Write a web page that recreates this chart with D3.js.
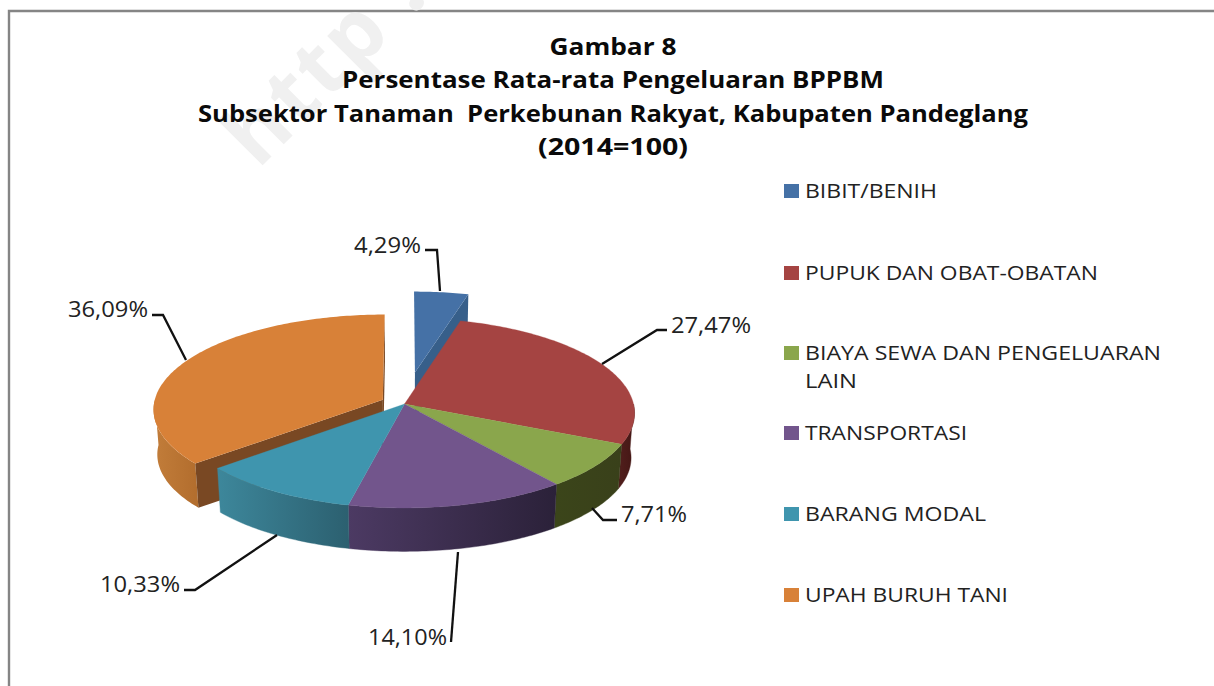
<!DOCTYPE html>
<html><head><meta charset="utf-8">
<script src="https://cdn.jsdelivr.net/npm/d3@7"></script>
<style>html,body{margin:0;padding:0;background:#fff}svg{display:block}</style>
</head><body><svg id="c" width="1214" height="686"></svg>
<script>
const categories = ["BIBIT/BENIH","PUPUK DAN OBAT-OBATAN","BIAYA SEWA DAN PENGELUARAN LAIN","TRANSPORTASI","BARANG MODAL","UPAH BURUH TANI"];
const values = [4.29,27.47,7.71,14.10,10.33,36.09];
const valueLabels = ["4,29%","27,47%","7,71%","14,10%","10,33%","36,09%"];
const titleLines = ["Gambar 8","Persentase Rata-rata Pengeluaran BPPBM","Subsektor Tanaman  Perkebunan Rakyat, Kabupaten Pandeglang","(2014=100)"];

// styling and layout, separate from the data
const topColors  = ["#4571a6","#a54442","#8aa64c","#72558c","#3f95ae","#d88138"];
const wallFrom   = ["#375f8a","#4f1d1b","#3b451a","#4c3a63","#3d879b","#c27d3a"];
const wallTo     = ["#375f8a","#431614","#39401a","#2b2139","#2c6070","#b36e2e"];
const explode    = [0.35,0,0,0,0,0.105];
const cx=404.5, cy=404, rx=229, ry=94.1, persp=0.0947, depth=45, shrink=0.985;
const font = "'Open Sans','DejaVu Sans',sans-serif";
const titleBase=[55,88,122,155], titleWidth=[127,542,830,150];
const legendY=[191,273,353,433,514,595];
const legendWidth=[[132],[293],[356,52],[162],[181],[203]];
const legendLines=[["BIBIT/BENIH"],["PUPUK DAN OBAT-OBATAN"],["BIAYA SEWA DAN PENGELUARAN","LAIN"],["TRANSPORTASI"],["BARANG MODAL"],["UPAH BURUH TANI"]];
const labelBox=[[421,245,67],[751,325,80],[687,514,66],[447,637,79],[180,584,80],[148,309,80]];
const leaders=[
 [[425,250],[437,250],[440,291]],
 [[667,330],[657,330],[602,364]],
 [[617,520],[603,520],[592,508]],
 [[451,642],[458,552]],
 [[184,590],[195,590],[277,535]],
 [[152,315],[163,315],[186,360]]
];

const svg=d3.select("#c");
const defs=svg.append("defs");

// frame
svg.append("path").attr("d",d3.line()([[9,686],[9,11],[1214,11]])).attr("fill","none").attr("stroke","#858585").attr("stroke-width",2.4);

// faint watermark
svg.append("text").attr("transform","translate(258,170) rotate(-45)")
  .attr("font-family",font).attr("font-weight",700).attr("font-size",84)
  .attr("fill","#f0f0f0").attr("letter-spacing",3).text("http .");

const arcs=d3.pie().sort(null).startAngle(0).endAngle(2*Math.PI)(values);

function project(a,r,off,bottom){
  const u=off[0]+r*Math.sin(a), v=off[1]-r*Math.cos(a);
  const den=1-persp*v, s=bottom?shrink:1;
  return [cx+s*rx*u/den, cy+s*ry*v/den+(bottom?depth:0)];
}
const line=d3.line();
function rimAngles(a0,a1){const n=Math.max(2,Math.ceil((a1-a0)*60));return d3.range(n+1).map(i=>a0+(a1-a0)*i/n);}

const slices=arcs.map((d,i)=>{
  const mid=(d.startAngle+d.endAngle)/2;
  const off=[explode[i]*Math.sin(mid),-explode[i]*Math.cos(mid)];
  return {i,a0:d.startAngle,a1:d.endAngle,off};
});

function topPath(s){
  const pts=[project(0,0,s.off,false),...rimAngles(s.a0,s.a1).map(a=>project(a,1,s.off,false))];
  return line(pts)+"Z";
}
function outerWall(s){
  const a0=Math.max(s.a0,Math.PI/2), a1=Math.min(s.a1,3*Math.PI/2);
  if(a1<=a0) return null;
  const ang=rimAngles(a0,a1);
  const pts=[...ang.map(a=>project(a,1,s.off,false)),...ang.slice().reverse().map(a=>project(a,1,s.off,true))];
  return line(pts)+"Z";
}
function radialWall(s,a){
  return line([project(0,0,s.off,false),project(a,1,s.off,false),project(a,1,s.off,true),project(0,0,s.off,true)])+"Z";
}
function wallGrad(s){
  const id="w"+s.i;
  const a0=Math.max(s.a0,Math.PI/2), a1=Math.min(s.a1,3*Math.PI/2);
  const xs=rimAngles(a0,a1).map(a=>project(a,1,s.off,false)[0]);
  const g=defs.append("linearGradient").attr("id",id).attr("gradientUnits","userSpaceOnUse")
    .attr("x1",d3.min(xs)).attr("x2",d3.max(xs)).attr("y1",0).attr("y2",0);
  g.append("stop").attr("offset",0).attr("stop-color",wallFrom[s.i]);
  g.append("stop").attr("offset",1).attr("stop-color",wallTo[s.i]);
  return "url(#"+id+")";
}
const pie=svg.append("g");
const [blue,red,green,purple,teal,orange]=slices;

pie.append("path").attr("d",radialWall(blue,blue.a1)).attr("fill",wallFrom[0]);
pie.append("path").attr("d",topPath(blue)).attr("fill",topColors[0]);

pie.append("path").attr("d",outerWall(orange)).attr("fill",wallGrad(orange));
pie.append("path").attr("d",radialWall(orange,orange.a0)).attr("fill","#794823");
pie.append("path").attr("d",radialWall(orange,orange.a1)).attr("fill","#794823");
pie.append("path").attr("d",topPath(orange)).attr("fill",topColors[5]);

[red,green,purple,teal].forEach(s=>{
  pie.append("path").attr("d",outerWall(s)).attr("fill",wallGrad(s)).attr("stroke",wallGrad(s)).attr("stroke-width",0.4);
});
[red,green,purple,teal].forEach(s=>{
  pie.append("path").attr("d",topPath(s)).attr("fill",topColors[s.i]).attr("stroke",topColors[s.i]).attr("stroke-width",0.3);
});

leaders.forEach(p=>svg.append("path").attr("d",line(p)).attr("fill","none").attr("stroke","#111").attr("stroke-width",2.3));
valueLabels.forEach((t,i)=>{
  const b=labelBox[i];
  svg.append("text").attr("x",b[0]-b[2]).attr("y",b[1]+8).attr("textLength",b[2]).attr("lengthAdjust","spacingAndGlyphs")
    .attr("font-family",font).attr("font-size",22).attr("fill","#222").text(t);
});

titleLines.forEach((t,i)=>{
  svg.append("text").attr("x",613).attr("y",titleBase[i]).attr("text-anchor","middle")
    .attr("textLength",titleWidth[i]).attr("lengthAdjust","spacingAndGlyphs")
    .style("white-space","pre")
    .attr("font-family",font).attr("font-weight",700).attr("font-size",24).attr("fill","#0a0a0a").text(t);
});

categories.forEach((c,i)=>{
  svg.append("rect").attr("x",784).attr("y",legendY[i]-7).attr("width",15).attr("height",14).attr("fill",topColors[i]);
  legendLines[i].forEach((t,j)=>{
    svg.append("text").attr("x",805).attr("y",legendY[i]+7+j*28).attr("textLength",legendWidth[i][j]).attr("lengthAdjust","spacingAndGlyphs")
      .attr("font-family",font).attr("font-size",20.5).attr("fill","#222").text(t);
  });
});
</script></body></html>
